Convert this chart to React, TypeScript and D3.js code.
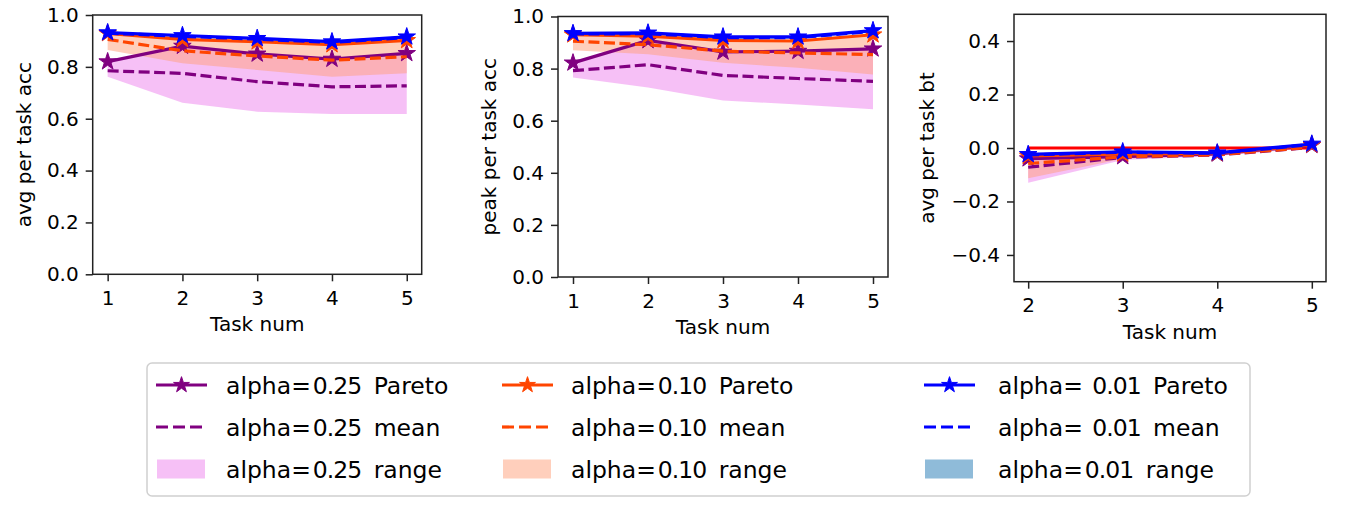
import React, { useEffect, useRef } from 'react';
import * as d3 from 'd3';

// x values
const taskNums = [1, 2, 3, 4, 5];
const btTaskNums = [2, 3, 4, 5];
const alphaLabels = ['0.25', '0.10', '0.01'];
const accTicks = [0, 0.2, 0.4, 0.6, 0.8, 1.0];
const btTicks = [-0.4, -0.2, 0, 0.2, 0.4];

// avg per task acc
const avgPareto25 = [0.820, 0.880, 0.850, 0.830, 0.852];
const avgMean25 = [0.785, 0.775, 0.743, 0.723, 0.727];
const avgLow25 = [0.762, 0.662, 0.627, 0.618, 0.618];
const avgHigh25 = [0.820, 0.878, 0.848, 0.830, 0.852];
const avgPareto10 = [0.929, 0.906, 0.897, 0.886, 0.902];
const avgMean10 = [0.906, 0.862, 0.842, 0.826, 0.839];
const avgLow10 = [0.865, 0.814, 0.788, 0.762, 0.775];
const avgHigh10 = [0.929, 0.906, 0.897, 0.886, 0.902];
const avgPareto01 = [0.932, 0.921, 0.910, 0.897, 0.916];
const avgMean01 = [0.930, 0.918, 0.907, 0.894, 0.913];
const avgLow01 = [0.926, 0.914, 0.903, 0.890, 0.909];
const avgHigh01 = [0.933, 0.922, 0.911, 0.898, 0.917];

// peak per task acc
const peakPareto25 = [0.822, 0.908, 0.864, 0.867, 0.876];
const peakMean25 = [0.792, 0.815, 0.774, 0.762, 0.751];
const peakLow25 = [0.766, 0.727, 0.678, 0.662, 0.644];
const peakHigh25 = [0.822, 0.905, 0.864, 0.867, 0.876];
const peakPareto10 = [0.930, 0.925, 0.908, 0.906, 0.930];
const peakMean10 = [0.905, 0.892, 0.867, 0.860, 0.854];
const peakLow10 = [0.870, 0.855, 0.822, 0.803, 0.777];
const peakHigh10 = [0.930, 0.925, 0.908, 0.906, 0.930];
const peakPareto01 = [0.935, 0.937, 0.922, 0.922, 0.946];
const peakMean01 = [0.933, 0.934, 0.919, 0.919, 0.943];
const peakLow01 = [0.929, 0.930, 0.915, 0.915, 0.939];
const peakHigh01 = [0.936, 0.938, 0.923, 0.923, 0.947];

// avg per task bt
const btPareto25 = [-0.040, -0.032, -0.022, 0.010];
const btMean25 = [-0.072, -0.035, -0.026, 0.002];
const btLow25 = [-0.130, -0.045, -0.030, 0.000];
const btHigh25 = [-0.040, -0.032, -0.022, 0.010];
const btPareto10 = [-0.030, -0.022, -0.020, 0.012];
const btMean10 = [-0.058, -0.033, -0.025, 0.003];
const btLow10 = [-0.113, -0.040, -0.028, 0.001];
const btHigh10 = [-0.030, -0.022, -0.020, 0.012];
const btPareto01 = [-0.024, -0.014, -0.018, 0.015];
const btMean01 = [-0.026, -0.016, -0.020, 0.013];
const btLow01 = [-0.029, -0.019, -0.023, 0.010];
const btHigh01 = [-0.023, -0.013, -0.017, 0.016];
const btZero = [0, 0, 0, 0];

const lineColors = ['purple', 'orangered', 'blue'];
const fillColors = ['violet', 'lightsalmon', '#1f77b4'];
const FONT = 'DejaVu Sans';
const INK = '#222';

interface SeriesSet { pareto: number[]; mean: number[]; low: number[]; high: number[]; }
interface PanelSpec {
  box: { left: number; right: number; top: number; bottom: number };
  xs: number[];
  xDomain: [number, number];
  yDomain: [number, number];
  yTicks: number[];
  yLabel: string;
  yLabelX: number;
  series: SeriesSet[];
  zero?: number[];
}

const star = d3.symbol().type(d3.symbolStar).size(95);
const legendStar = d3.symbol().type(d3.symbolStar).size(78);

function drawPanel(svg: d3.Selection<SVGSVGElement, unknown, null, undefined>, spec: PanelSpec) {
  const { box } = spec;
  const x = d3.scaleLinear().domain(spec.xDomain).range([box.left, box.right]);
  const y = d3.scaleLinear().domain(spec.yDomain).range([box.bottom, box.top]);
  const idx = spec.xs.map((_, i) => i);
  const g = svg.append('g');

  // ranges
  spec.series.forEach((s, k) => {
    const area = d3.area<number>()
      .x(i => x(spec.xs[i]))
      .y0(i => y(s.low[i]))
      .y1(i => y(s.high[i]));
    g.append('path')
      .datum(idx)
      .attr('d', area)
      .attr('fill', fillColors[k])
      .attr('fill-opacity', 0.5);
  });

  if (spec.zero) {
    const zl = d3.line<number>().x(i => x(spec.xs[i])).y(i => y(spec.zero![i]));
    g.append('path').datum(idx).attr('d', zl)
      .attr('fill', 'none').attr('stroke', 'red').attr('stroke-width', 3);
  }

  spec.series.forEach((s, k) => {
    const pl = d3.line<number>().x(i => x(spec.xs[i])).y(i => y(s.pareto[i]));
    g.append('path').datum(idx).attr('d', pl)
      .attr('fill', 'none').attr('stroke', lineColors[k]).attr('stroke-width', 3.2);
    g.selectAll(null)
      .data(idx)
      .enter()
      .append('path')
      .attr('d', star)
      .attr('transform', i => `translate(${x(spec.xs[i])},${y(s.pareto[i])})`)
      .attr('fill', lineColors[k])
      .attr('stroke', lineColors[k])
      .attr('stroke-width', 1);
    const ml = d3.line<number>().x(i => x(spec.xs[i])).y(i => y(s.mean[i]));
    g.append('path').datum(idx).attr('d', ml)
      .attr('fill', 'none').attr('stroke', lineColors[k]).attr('stroke-width', 3.2)
      .attr('stroke-dasharray', '11,4.5');
  });

  // axes
  const xa = g.append('g')
    .attr('transform', `translate(0,${box.bottom})`)
    .call(d3.axisBottom(x).tickValues(spec.xs).tickFormat(d3.format('d') as any)
      .tickSize(7).tickSizeOuter(0).tickPadding(9.5));
  const ya = g.append('g')
    .attr('transform', `translate(${box.left},0)`)
    .call(d3.axisLeft(y).tickValues(spec.yTicks).tickFormat(d3.format('.1f') as any)
      .tickSize(7).tickSizeOuter(0).tickPadding(7));
  [xa, ya].forEach(a => {
    a.attr('font-family', FONT).attr('font-size', 20);
    a.select('.domain').remove();
    a.selectAll('line').attr('stroke', INK).attr('stroke-width', 1.5);
    a.selectAll('text').attr('fill', '#000');
  });

  g.append('rect')
    .attr('x', box.left).attr('y', box.top)
    .attr('width', box.right - box.left).attr('height', box.bottom - box.top)
    .attr('fill', 'none').attr('stroke', INK).attr('stroke-width', 1.5);

  g.append('text')
    .attr('x', (box.left + box.right) / 2)
    .attr('y', box.bottom + 57)
    .attr('text-anchor', 'middle')
    .attr('font-family', FONT).attr('font-size', 20)
    .text('Task num');

  g.append('text')
    .attr('transform', `translate(${spec.yLabelX},${(box.top + box.bottom) / 2}) rotate(-90)`)
    .attr('text-anchor', 'middle')
    .attr('font-family', FONT).attr('font-size', 20)
    .text(spec.yLabel);
}

const App: React.FC = () => {
  const svgRef = useRef<SVGSVGElement>(null);

  useEffect(() => {
    const svg = d3.select(svgRef.current!);
    svg.selectAll('*').remove();

    drawPanel(svg, {
      box: { left: 92.7, right: 421.7, top: 15, bottom: 274.3 },
      xs: taskNums, xDomain: [0.8, 5.2], yDomain: [0, 1], yTicks: accTicks,
      yLabel: 'avg per task acc', yLabelX: 31,
      series: [
        { pareto: avgPareto25, mean: avgMean25, low: avgLow25, high: avgHigh25 },
        { pareto: avgPareto10, mean: avgMean10, low: avgLow10, high: avgHigh10 },
        { pareto: avgPareto01, mean: avgMean01, low: avgLow01, high: avgHigh01 },
      ],
    });
    drawPanel(svg, {
      box: { left: 558, right: 888, top: 16.5, bottom: 277 },
      xs: taskNums, xDomain: [0.8, 5.2], yDomain: [0, 1], yTicks: accTicks,
      yLabel: 'peak per task acc', yLabelX: 496,
      series: [
        { pareto: peakPareto25, mean: peakMean25, low: peakLow25, high: peakHigh25 },
        { pareto: peakPareto10, mean: peakMean10, low: peakLow10, high: peakHigh10 },
        { pareto: peakPareto01, mean: peakMean01, low: peakLow01, high: peakHigh01 },
      ],
    });
    drawPanel(svg, {
      box: { left: 1014, right: 1326, top: 14.3, bottom: 281.7 },
      xs: btTaskNums, xDomain: [1.85, 5.15], yDomain: [-0.5, 0.5], yTicks: btTicks,
      yLabel: 'avg per task bt', yLabelX: 934,
      series: [
        { pareto: btPareto25, mean: btMean25, low: btLow25, high: btHigh25 },
        { pareto: btPareto10, mean: btMean10, low: btLow10, high: btHigh10 },
        { pareto: btPareto01, mean: btMean01, low: btLow01, high: btHigh01 },
      ],
      zero: btZero,
    });

    // legend
    const lg = svg.append('g');
    lg.append('rect')
      .attr('x', 147).attr('y', 363).attr('width', 1103).attr('height', 133)
      .attr('rx', 5).attr('fill', '#fff').attr('stroke', '#d0d0d0').attr('stroke-width', 1.5);

    const handleX = [156, 502, 924];
    const textX = [226, 571, 998];
    const rowY = [385, 427, 469];
    const kinds = ['Pareto', 'mean', 'range'];

    alphaLabels.forEach((a, c) => {
      const hx = handleX[c];
      const hw = 51;
      // Pareto
      lg.append('line').attr('x1', hx).attr('x2', hx + hw).attr('y1', rowY[0]).attr('y2', rowY[0])
        .attr('stroke', lineColors[c]).attr('stroke-width', 3.2);
      lg.append('path').attr('d', legendStar)
        .attr('transform', `translate(${hx + hw / 2},${rowY[0]})`)
        .attr('fill', lineColors[c]).attr('stroke', lineColors[c]);
      // mean
      lg.append('line').attr('x1', hx).attr('x2', hx + hw).attr('y1', rowY[1]).attr('y2', rowY[1])
        .attr('stroke', lineColors[c]).attr('stroke-width', 3.2).attr('stroke-dasharray', '12,5');
      // range
      lg.append('rect').attr('x', hx + 1).attr('y', rowY[2] - 9.5).attr('width', hw - 3).attr('height', 19)
        .attr('fill', fillColors[c]).attr('fill-opacity', 0.5);

      kinds.forEach((kind, r) => {
        const gap = c === 2 && r < 2 ? ' ' : '';
        const t = lg.append('text')
          .attr('x', textX[c]).attr('y', rowY[r] + 8.5)
          .attr('font-family', FONT).attr('font-size', 23.5)
          .style('white-space', 'pre');
        t.append('tspan').text('alpha=' + gap);
        t.append('tspan').attr('dx', 2).attr('letter-spacing', -1).text(a);
        t.append('tspan').attr('dx', 5).text(' ' + kind);
      });
    });
  }, []);

  return (
    <svg ref={svgRef} width={1365} height={508}
      style={{ position: 'fixed', left: 0, top: 0, background: '#fff' }} />
  );
};

export default App;
